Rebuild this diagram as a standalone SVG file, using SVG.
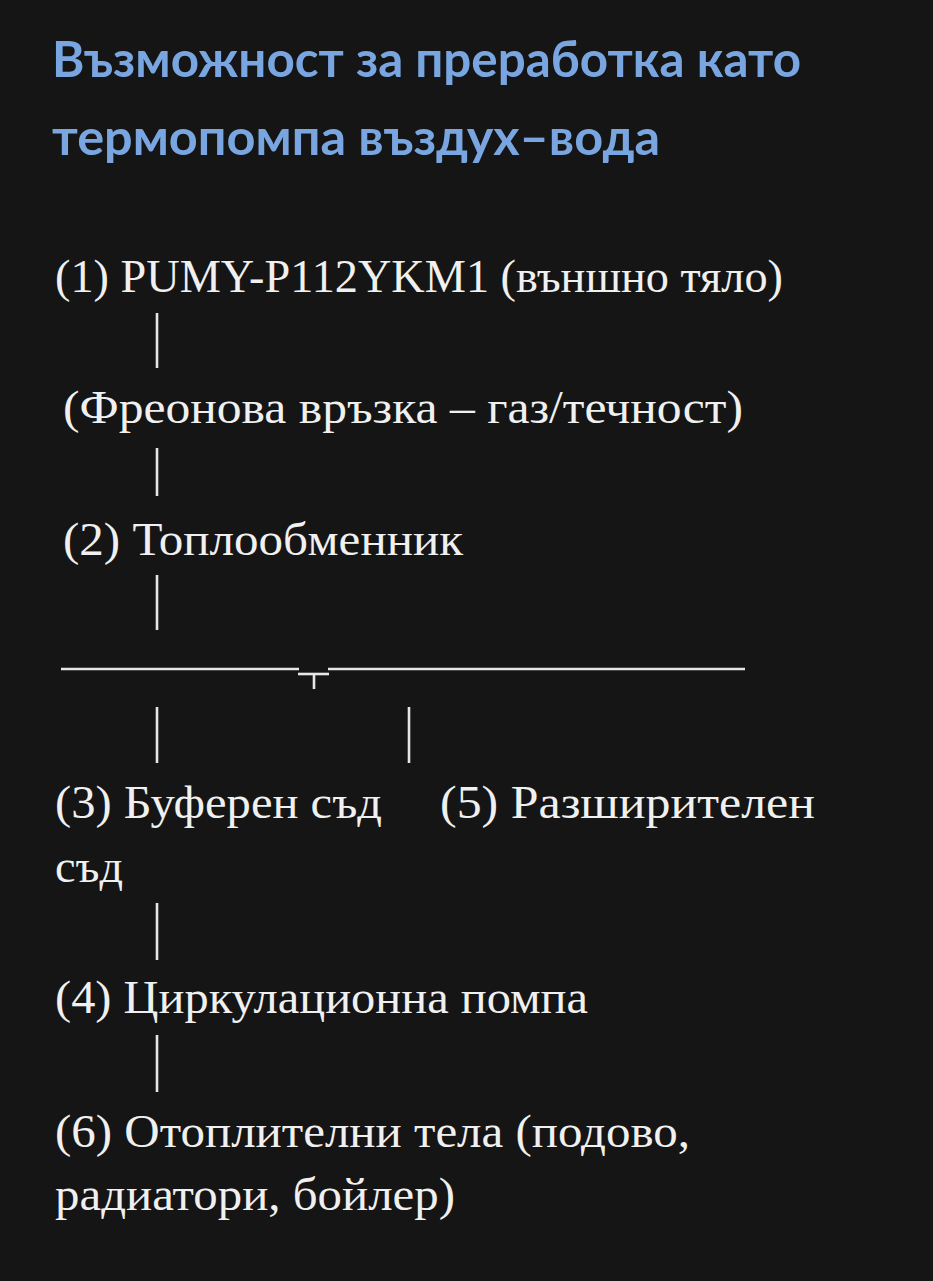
<svg xmlns="http://www.w3.org/2000/svg" width="933" height="1281" viewBox="0 0 933 1281">
  <style>
    .title { font-family: Lato, "Open Sans", "Noto Sans", sans-serif; font-weight: 700; font-size: 49px; fill: #79a6e0; }
    .t { font-family: "Liberation Serif", "DejaVu Serif", serif; font-size: 46px; fill: #f0f0f0; }
    .c { stroke: #e6e6e6; stroke-width: 2.6; fill: none; stroke-linecap: butt; }
  </style>
  <rect x="0" y="0" width="933" height="1281" fill="#151515"/>

  <g id="title">
    <text class="title" x="52" y="77" textLength="749" lengthAdjust="spacingAndGlyphs">Възможност за преработка като</text>
    <text class="title" x="52" y="155" textLength="608" lengthAdjust="spacingAndGlyphs">термопомпа въздух–вода</text>
  </g>

  <g id="node1">
    <text class="t" x="55" y="292" textLength="728" lengthAdjust="spacingAndGlyphs">(1) PUMY-P112YKM1 (външно тяло)</text>
  </g>
  <g id="freon">
    <text class="t" x="63" y="423" textLength="680" lengthAdjust="spacingAndGlyphs">(Фреонова връзка – газ/течност)</text>
  </g>
  <g id="node2">
    <text class="t" x="63" y="555" textLength="400" lengthAdjust="spacingAndGlyphs">(2) Топлообменник</text>
  </g>
  <g id="node3">
    <text class="t" x="55" y="818" textLength="327" lengthAdjust="spacingAndGlyphs">(3) Буферен съд</text>
  </g>
  <g id="node5">
    <text class="t" x="440" y="818" textLength="375" lengthAdjust="spacingAndGlyphs">(5) Разширителен</text>
    <text class="t" x="55" y="882" textLength="68" lengthAdjust="spacingAndGlyphs">съд</text>
  </g>
  <g id="node4">
    <text class="t" x="55" y="1013" textLength="533" lengthAdjust="spacingAndGlyphs">(4) Циркулационна помпа</text>
  </g>
  <g id="node6">
    <text class="t" x="55" y="1147" textLength="635" lengthAdjust="spacingAndGlyphs">(6) Отоплителни тела (подово,</text>
    <text class="t" x="55" y="1210" textLength="400" lengthAdjust="spacingAndGlyphs">радиатори, бойлер)</text>
  </g>

  <g id="connectors">
    <line class="c" x1="157" y1="313" x2="157" y2="368"/>
    <line class="c" x1="157" y1="448" x2="157" y2="496"/>
    <line class="c" x1="157" y1="575" x2="157" y2="630"/>
    <line class="c" x1="61" y1="669" x2="299" y2="669"/>
    <line class="c" x1="328" y1="669" x2="745" y2="669"/>
    <line class="c" x1="298" y1="674" x2="329" y2="674"/>
    <line class="c" x1="314" y1="674" x2="314" y2="689"/>
    <line class="c" x1="157" y1="707" x2="157" y2="763"/>
    <line class="c" x1="409" y1="707" x2="409" y2="763"/>
    <line class="c" x1="157" y1="903" x2="157" y2="960"/>
    <line class="c" x1="157" y1="1035" x2="157" y2="1092"/>
  </g>
</svg>
